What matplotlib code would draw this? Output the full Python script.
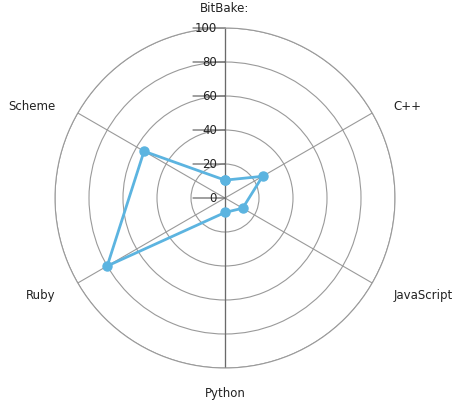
import numpy as np
import matplotlib
matplotlib.use("Agg")
import matplotlib.pyplot as plt

categories = ["BitBake:", "C++", "JavaScript", "Python", "Ruby", "Scheme"]
values = [10.5, 25.5, 12, 8.5, 80, 55]
rticks = [0, 20, 40, 60, 80, 100]

# label offsets (pixels) from the outer ring, per category
label_offsets = [(0, 20, "center"), (21, 7, "left"), (21, -12, "left"),
                 (0, -25, "center"), (-22, -12, "right"), (-22, 7, "right")]

fig = plt.figure(figsize=(4.63, 4.04), dpi=100)
ax = fig.add_axes([55 / 463, 36 / 404, 340 / 463, 340 / 404], projection="polar")
ax.set_theta_zero_location("N")
ax.set_theta_direction(-1)
ax.set_ylim(0, 100)

angles = np.linspace(0, 2 * np.pi, len(categories), endpoint=False)
ax.set_thetagrids(np.degrees(angles), [""] * len(categories))
ax.set_rgrids(rticks[1:], [""] * (len(rticks) - 1))
ax.grid(color="#9a9a9a", linewidth=0.8)
ax.spines["polar"].set_color("#9a9a9a")
ax.spines["polar"].set_linewidth(0.8)
ax.tick_params(length=0)

# darker vertical axis line
ax.plot([0, 0], [0, 100], color="#6a6a6a", linewidth=0.9, zorder=2)
ax.plot([np.pi, np.pi], [0, 100], color="#6a6a6a", linewidth=0.9, zorder=2)

# radial tick labels with small tick marks
for v in rticks:
    ax.annotate("", xy=(0, v), xytext=(-32, 0), textcoords="offset pixels",
                arrowprops=dict(arrowstyle="-", color="#6a6a6a", linewidth=0.9,
                                shrinkA=0, shrinkB=0), zorder=2)
    ax.annotate(str(v), xy=(0, v), xytext=(-8, 0), textcoords="offset pixels",
                ha="right", va="center", fontsize=8.5, color="#222222", zorder=3,
                bbox=dict(boxstyle="square,pad=0.05", fc="none", ec="none"))

# category labels
for ang, cat, (dx, dy, ha) in zip(angles, categories, label_offsets):
    ax.annotate(cat, xy=(ang, 100), xytext=(dx, dy), textcoords="offset pixels",
                ha=ha, va="center", fontsize=8.5, color="#222222",
                annotation_clip=False)

theta = np.concatenate([angles, angles[:1]])
r = values + values[:1]
ax.plot(theta, r, color="#5cb4e0", linewidth=2, marker="o", markersize=6.5,
        zorder=4, clip_on=False)

fig.savefig("out.png", dpi=100)
